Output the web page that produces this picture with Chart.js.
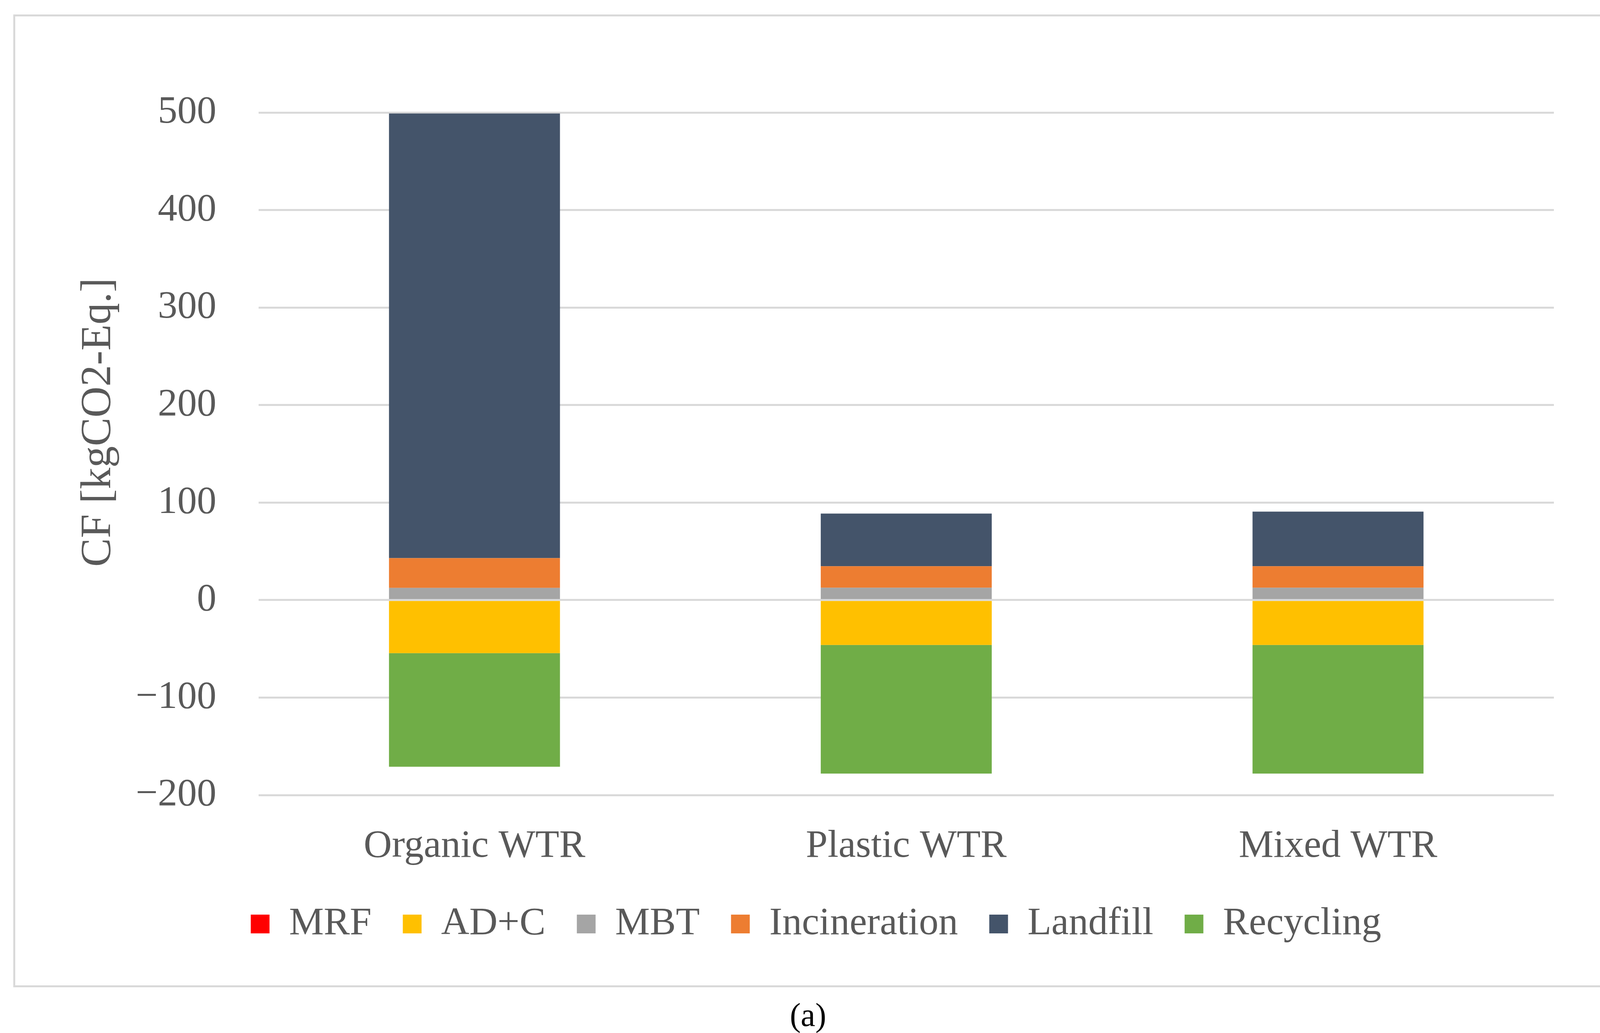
<!DOCTYPE html>
<html>
<head>
<meta charset="utf-8">
<script src="https://cdn.jsdelivr.net/npm/chart.js@4.4.1/dist/chart.umd.min.js"></script>
<style>
  html, body { margin: 0; padding: 0; background: #fff; }
  body { width: 4137px; height: 2644px; position: relative; overflow: hidden; }
  #frame {
    position: absolute; left: 34px; top: 37px; width: 4071px; height: 2490px;
    box-sizing: border-box; border: 5px solid #D9D9D9;
  }
  #wrap { position: absolute; left: 34px; top: 37px; width: 4071px; height: 2490px; }
  #caption {
    position: absolute; left: 0; width: 4137px; top: 2548px; text-align: center;
    font-family: "Liberation Serif", serif; font-size: 84px; line-height: 100px; color: #000;
  }
</style>
</head>
<body>
<div id="frame"></div>
<div id="wrap"><canvas id="cfChart"></canvas></div>
<div id="caption">(a)</div>
<script>
// categories and series (kgCO2-Eq.)
const categories = ['Organic WTR', 'Plastic WTR', 'Mixed WTR'];
const mrf = [0, 0, 0];
const adc = [-54.5, -46, -46];
const mbt = [12.5, 12.7, 12.7];
const incineration = [30.5, 22, 22];
const landfill = [456, 54, 56];
const recycling = [-116.5, -132, -132];
const yTicks = [-200, -100, 0, 100, 200, 300, 400, 500];

const serif = '"Liberation Serif", "Times New Roman", serif';
const txtGray = '#595959';

// y title drawn at its own spot (reference places it a bit above the axis centre)
const yTitlePlugin = {
  id: 'yTitle',
  afterDraw(chart) {
    const ctx = chart.ctx;
    ctx.save();
    ctx.translate(219, 1044);
    ctx.rotate(-Math.PI / 2);
    ctx.font = '110px ' + serif;
    ctx.fillStyle = txtGray;
    ctx.textAlign = 'center';
    ctx.textBaseline = 'middle';
    ctx.fillText('CF [kgCO2-Eq.]', 0, 0);
    ctx.restore();
  }
};

function ds(label, data, color) {
  return {
    label: label,
    data: data,
    backgroundColor: color,
    borderWidth: 0,
    stack: 's',
    categoryPercentage: 1,
    barPercentage: 0.396
  };
}

new Chart(document.getElementById('cfChart'), {
  type: 'bar',
  data: {
    labels: categories,
    datasets: [
      ds('MRF', mrf, '#FF0000'),
      ds('AD+C', adc, '#FFC000'),
      ds('MBT', mbt, '#A5A5A5'),
      ds('Incineration', incineration, '#ED7D31'),
      ds('Landfill', landfill, '#44546A'),
      ds('Recycling', recycling, '#70AD47')
    ]
  },
  options: {
    responsive: true,
    maintainAspectRatio: false,
    devicePixelRatio: 1,
    animation: false,
    layout: { padding: { top: 251, right: 127, bottom: 102, left: 166 } },
    plugins: {
      tooltip: { enabled: false },
      legend: {
        position: 'bottom',
        labels: {
          color: txtGray,
          font: { family: serif, size: 100 },
          boxWidth: 48,
          boxHeight: 48,
          padding: 80
        }
      }
    },
    scales: {
      x: {
        stacked: true,
        grid: { display: false },
        border: { display: false },
        ticks: { color: txtGray, font: { family: serif, size: 100 }, padding: 64 },
        afterFit(scale) { scale.height = 200; }
      },
      y: {
        stacked: true,
        min: -200,
        max: 500,
        afterBuildTicks(scale) { scale.ticks = yTicks.map(v => ({ value: v })); },
        grid: { color: '#D9D9D9', lineWidth: 5, drawTicks: false },
        border: { display: false },
        ticks: {
          color: txtGray,
          font: { family: serif, size: 100 },
          padding: 108,
          callback: v => String(v).replace('-', '\u2212')
        },
        afterFit(scale) { scale.width = 462; }
      }
    }
  },
  plugins: [yTitlePlugin]
});
</script>
</body>
</html>
